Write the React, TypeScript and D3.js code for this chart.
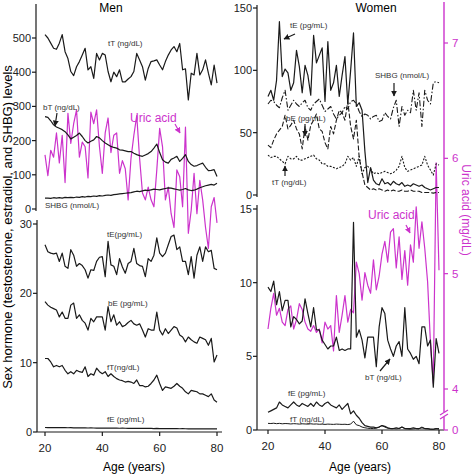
import React from 'react';
import * as d3 from 'd3';

// Ages 20..80, one value per year
const AGES = d3.range(20, 81);

// Men, upper panel (ng/dL, nmol/L)
const menTT = [510,500,485,470,467,485,510,460,440,402,390,416,431,450,470,407,416,382,455,436,455,450,402,372,400,387,407,372,372,380,387,402,455,436,416,377,411,431,433,436,421,407,431,450,465,475,460,484,407,410,319,397,392,455,392,407,436,397,363,421,368];
const menBT = [270,268,258,246,240,236,232,226,217,205,210,215,222,212,200,193,198,202,212,208,200,193,188,183,180,178,173,172,170,168,168,163,159,156,154,158,162,168,178,190,165,144,137,134,145,149,154,139,148,159,139,130,125,127,131,134,122,112,113,115,95];
const menSHBG = [32,32,31,33,32,33,32,34,33,34,33,35,34,36,35,37,36,38,37,39,38,40,41,40,42,43,44,45,46,47,48,50,52,51,53,55,54,56,58,57,56,58,60,62,61,59,57,55,57,60,56,54,55,58,62,65,68,70,72,70,75];
const menUric = [6.03,5.85,6.07,6.01,6.22,5.96,6.2,5.79,6.39,6.13,6.3,6.42,6.01,6.14,6.1,5.83,6.4,6.3,6.42,6.1,5.87,6.22,6.35,6.05,6.2,6.22,5.87,5.98,5.91,5.64,6.0,6.2,6.37,6.0,5.7,5.64,5.75,5.64,5.58,5.9,6.26,6.1,5.64,5.75,5.52,5.4,5.9,5.84,5.58,6.27,5.35,5.55,5.87,5.52,5.81,5.64,5.4,5.22,5.58,5.66,5.44];

// Men, lower panel (pg/mL, ng/dL)
const menTE = [27,26,25.8,25.7,25.8,24.6,25.8,23.9,23.6,26.3,25.5,23.9,24.3,24.0,23.4,22.2,23.4,23.3,24.6,25.2,25.3,22.4,27.5,24.1,23.9,22.7,25,23.8,22.9,24.3,24.6,26.5,24.3,24.0,23.9,22.4,25,24.6,25.5,28,25.8,25.3,25.8,27.0,28.2,28.4,26.3,26.7,24.6,24.6,22.7,25.3,22.2,25.5,26.7,24.6,26.7,26,26.2,23.6,23.4];
const menBE = [18.8,18.3,18.0,17.8,17.6,16.6,17.3,16.4,16.4,18.3,18.6,16.4,16.9,16.1,15.7,14.7,16.4,15.9,16.6,16.6,16.6,14.7,18.1,15.9,16.9,15.4,15.9,15.2,15.4,15.8,16.1,15.6,15.4,15.6,14.7,13.7,14.9,14.7,14.7,17.3,14.7,14.0,14.9,14.2,14.7,15.2,15.0,14.0,13.7,13.0,13.7,13.3,13.0,12.8,13.7,13.5,13.3,12.5,13.5,10.1,11.1];
const menFT = [10.6,10.6,10.1,9.4,9.6,9.4,9.6,8.9,8.4,8.7,8.4,8.9,8.7,8.6,9.4,8.0,8.4,8.2,9.2,8.7,8.4,8.7,8.0,8.4,8.0,7.7,7.5,7.4,7.2,7.3,7.2,7.0,7.5,6.7,6.7,6.5,6.6,7.0,7.5,8.2,7.0,6.0,6.5,6.4,6.3,6.6,7.0,6.6,6.3,5.8,5.5,6.0,5.9,5.8,5.5,5.5,5.3,5.1,5.5,4.6,4.3];
const menFE = [0.65,0.64,0.65,0.63,0.64,0.62,0.63,0.62,0.61,0.62,0.6,0.61,0.6,0.59,0.6,0.58,0.59,0.58,0.57,0.58,0.56,0.57,0.56,0.55,0.56,0.55,0.54,0.55,0.54,0.53,0.54,0.53,0.52,0.53,0.52,0.51,0.52,0.51,0.5,0.52,0.5,0.49,0.5,0.49,0.48,0.49,0.48,0.47,0.48,0.47,0.46,0.47,0.46,0.46,0.45,0.46,0.45,0.44,0.45,0.44,0.44];

// Women, upper panel
const womenTE = [79,84,76,92,139,95,101,98,84,90,116,103,82,104,96,80,128,106,112,118,75,123,84,90,104,79,96,111,73,100,130,71,74,68,35,10,22,12,9,8,13,9,10,8,11,9,8,10,7,8,7,9,8,7,8,6,5,4,5,6,6];
const womenSHBG = [73,76,75,72,70,78,84,68,72,76,73,71,74,76,70,68,73,75,77,72,67,69,71,65,61,64,66,71,69,75,76,73,67,63,65,64,61,63,64,59,60,66,63,61,70,76,55,71,64,68,66,84,68,82,55,84,76,73,90,91,90];
const womenBE = [40,38,44,49,52,55,64,53,56,60,53,49,37,55,44,56,60,65,53,51,42,37,55,49,60,68,66,60,75,55,45,60,30,18,8,6,4,5,4,5,4,3,4,3,4,3,3,4,3,3,4,3,3,3,2,2,2,2,1.5,2,2];
const womenTT = [32,30,31,31,29,27,25,31,29,29,31,28,28,29,30,31,32,29,28,25,25,23,23,22,21,22,23,25,31,28,30,23,31,17,22,23,21,17,18,17,18,19,18,17,18,20,23,31,22,19,20,21,22,23,24,31,24,20,16,25,24];

// Women, lower panel
const womenBT = [9.7,9.4,10.1,8.5,9.4,8.1,8.8,8.8,7.0,7.7,7.5,7.2,7.4,8.9,7.9,7.0,8.3,6.8,6.8,6.1,5.8,5.5,5.7,5.7,6.3,5.4,5.5,5.4,5.5,5.5,14.1,6.3,6.8,6.1,4.9,6.3,6.3,6.3,4.3,7.0,8.3,7.9,6.1,5.5,5.0,5.7,6.0,5.0,8.3,5.5,5.2,4.8,5.0,4.5,7.0,7.0,5.7,6.1,2.9,6.2,5.2];
const womenFE = [1.2,1.3,1.4,1.5,1.9,1.7,1.6,1.5,1.7,1.9,1.7,1.6,1.8,1.7,1.6,1.8,1.6,1.9,1.7,1.6,1.8,1.9,1.7,1.6,1.5,1.7,1.4,1.6,1.8,1.1,1.3,1.0,0.8,0.5,0.3,0.25,0.2,0.2,0.15,0.2,0.3,0.25,0.15,0.1,0.1,0.15,0.1,0.2,0.1,0.1,0.1,0.15,0.1,0.1,0.15,0.1,0.1,0.05,0.05,0.1,0.05];
const womenFT = [0.45,0.44,0.46,0.43,0.45,0.42,0.44,0.43,0.41,0.43,0.42,0.4,0.42,0.41,0.4,0.42,0.4,0.41,0.39,0.4,0.38,0.4,0.39,0.38,0.4,0.39,0.38,0.39,0.37,0.4,0.6,0.35,0.3,0.2,0.15,0.12,0.1,0.1,0.12,0.2,0.3,0.2,0.12,0.1,0.1,0.08,0.1,0.2,0.1,0.08,0.06,0.08,0.1,0.08,0.2,0.1,0.08,0.06,0.05,0.08,0.1];
const womenUric = [4.52,4.7,4.83,4.64,4.7,4.58,4.55,4.69,4.72,4.52,4.6,4.74,4.69,4.58,4.52,4.5,4.55,4.49,4.52,4.4,4.58,4.52,4.55,4.33,4.81,4.49,4.64,4.81,4.58,4.69,4.66,5.1,5.0,4.77,5.01,4.9,4.83,5.12,4.86,4.98,5.17,5.28,5.1,5.36,5.39,5.05,5.32,4.95,5.2,4.9,5.25,5.1,5.58,5.22,5.45,5.22,4.93,4.4,4.05,5.96,5.03];

// Tick values
const xTicks = [20, 40, 60, 80];
const menUpperTicks = [0, 100, 200, 300, 400, 500];
const menLowerTicks = [0, 10, 20, 30];
const womenUpperTicks = [0, 50, 100, 150];
const womenLowerTicks = [0, 5, 10, 15];
const uricTicks = [4, 5, 6, 7];

const FONT = 'Liberation Sans, Arial, sans-serif';
const MAGENTA = '#cc33cc';
const INK = '#1a1a1a';

const xL = d3.scaleLinear().domain([20, 80]).range([45, 217]);
const xR = d3.scaleLinear().domain([20, 80]).range([268, 439]);
const yLU = d3.scaleLinear().domain([0, 500]).range([209, 38]);
const yLL = d3.scaleLinear().domain([0, 30]).range([432, 224]);
const yRU = d3.scaleLinear().domain([0, 150]).range([195, 8]);
const yRL = d3.scaleLinear().domain([0, 15]).range([430, 209]);
const yUric = d3.scaleLinear().domain([4, 7]).range([389, 43]);

function path(vals: number[], x: d3.ScaleLinear<number, number>, y: d3.ScaleLinear<number, number>) {
  return d3.line<number>().x((_, i) => x(AGES[i])).y(d => y(d))(vals) as string;
}

const Series = ({ d, dash, color = INK, w = 1.2 }: { d: string; dash?: string; color?: string; w?: number }) => (
  <path d={d} fill="none" stroke={color} strokeWidth={w} strokeDasharray={dash} strokeLinejoin="round" />
);

const Label = ({ x, y, t, color = '#333', size = 8 }: { x: number; y: number; t: string; color?: string; size?: number }) => (
  <text x={x} y={y} fontSize={size} fill={color} fontFamily={FONT}>{t}</text>
);

const Arrow = ({ x1, y1, x2, y2, color = INK }: { x1: number; y1: number; x2: number; y2: number; color?: string }) => (
  <line x1={x1} y1={y1} x2={x2} y2={y2} stroke={color} strokeWidth={1.2}
    markerEnd={color === INK ? 'url(#ah)' : 'url(#ahm)'} />
);

function YAxis({ x, y, ticks, top, bottom }: { x: number; y: d3.ScaleLinear<number, number>; ticks: number[]; top: number; bottom: number }) {
  return (
    <g>
      <line x1={x} x2={x} y1={top} y2={bottom} stroke={INK} strokeWidth={1.2} />
      {ticks.map(t => (
        <g key={t}>
          <line x1={x - 4} x2={x} y1={y(t)} y2={y(t)} stroke={INK} strokeWidth={1.2} />
          <text x={x - 5} y={y(t) + 4} fontSize={11} textAnchor="end" fontFamily={FONT} fill="#222">{t}</text>
        </g>
      ))}
    </g>
  );
}

function XAxis({ x, y, left, right }: { x: d3.ScaleLinear<number, number>; y: number; left: number; right: number }) {
  return (
    <g>
      <line x1={left} x2={right} y1={y} y2={y} stroke={INK} strokeWidth={1.2} />
      {xTicks.map(t => (
        <g key={t}>
          <line x1={x(t)} x2={x(t)} y1={y} y2={y + 4} stroke={INK} strokeWidth={1.2} />
          <text x={x(t)} y={y + 20} fontSize={11.5} textAnchor="middle" fontFamily={FONT} fill="#222">{t}</text>
        </g>
      ))}
    </g>
  );
}

export default function App() {
  return (
    <div style={{ position: 'absolute', left: 0, top: 0 }}>
      <svg width={474} height={474} style={{ display: 'block', background: '#fff' }}>
        <defs>
          <marker id="ah" viewBox="0 0 10 10" refX="9" refY="5" markerWidth="5" markerHeight="5" orient="auto">
            <path d="M0,0 L10,5 L0,10 z" fill={INK} />
          </marker>
          <marker id="ahm" viewBox="0 0 10 10" refX="9" refY="5" markerWidth="5" markerHeight="5" orient="auto">
            <path d="M0,0 L10,5 L0,10 z" fill={MAGENTA} />
          </marker>
        </defs>

        {/* Titles */}
        <text x={111} y={12} fontSize={12} textAnchor="middle" fontFamily={FONT}>Men</text>
        <text x={376} y={12} fontSize={12} textAnchor="middle" fontFamily={FONT}>Women</text>
        <text x={134} y={471} fontSize={12} textAnchor="middle" fontFamily={FONT}>Age (years)</text>
        <text x={360} y={471} fontSize={12} textAnchor="middle" fontFamily={FONT}>Age (years)</text>
        <text transform="translate(12,227) rotate(-90)" fontSize={13} textAnchor="middle" fontFamily={FONT}>
          Sex hormone (testosterone, estradiol, and SHBG) levels
        </text>
        <text transform="translate(462,210) rotate(90)" fontSize={12} textAnchor="middle" fontFamily={FONT} fill={MAGENTA}>
          Uric acid (mg/dL)
        </text>

        {/* Men axes */}
        <YAxis x={36} y={yLU} ticks={menUpperTicks} top={4} bottom={211} />
        <YAxis x={37} y={yLL} ticks={menLowerTicks} top={220} bottom={432} />
        <XAxis x={xL} y={432} left={37} right={222} />

        {/* Women axes */}
        <YAxis x={257} y={yRU} ticks={womenUpperTicks} top={5} bottom={197} />
        <YAxis x={257} y={yRL} ticks={womenLowerTicks} top={205} bottom={430} />
        <XAxis x={xR} y={430} left={257} right={444} />

        {/* Uric acid axis */}
        <g>
          <line x1={444} x2={444} y1={2} y2={430} stroke={MAGENTA} strokeWidth={1.4} />
          {uricTicks.map(t => (
            <g key={t}>
              <line x1={444} x2={448} y1={yUric(t)} y2={yUric(t)} stroke={MAGENTA} strokeWidth={1.2} />
              <text x={452} y={yUric(t) + 4} fontSize={11.5} fontFamily={FONT} fill={MAGENTA}>{t}</text>
            </g>
          ))}
          <line x1={444} x2={448} y1={430} y2={430} stroke={MAGENTA} strokeWidth={1.2} />
          <text x={452} y={434} fontSize={11.5} fontFamily={FONT} fill={MAGENTA}>0</text>
          <rect x={440} y={412} width={8} height={5} fill="#fff" />
          <line x1={440} y1={415} x2={448} y2={410} stroke={MAGENTA} strokeWidth={1.2} />
          <line x1={440} y1={419} x2={448} y2={414} stroke={MAGENTA} strokeWidth={1.2} />
        </g>

        {/* Men series */}
        <Series d={path(menUric, xL, yUric)} color={MAGENTA} />
        <Series d={path(menTT, xL, yLU)} />
        <Series d={path(menBT, xL, yLU)} />
        <Series d={path(menSHBG, xL, yLU)} />
        <Series d={path(menTE, xL, yLL)} />
        <Series d={path(menBE, xL, yLL)} />
        <Series d={path(menFT, xL, yLL)} />
        <Series d={path(menFE, xL, yLL)} />

        {/* Women series */}
        <Series d={path(womenUric, xR, yUric)} color={MAGENTA} />
        <Series d={path(womenSHBG, xR, yRU)} dash="6,2,1.5,2" w={1.1} />
        <Series d={path(womenBE, xR, yRU)} dash="5,2" w={1.1} />
        <Series d={path(womenTT, xR, yRU)} dash="2,1.5" w={1.1} />
        <Series d={path(womenTE, xR, yRU)} />
        <Series d={path(womenBT, xR, yRL)} />
        <Series d={path(womenFE, xR, yRL)} />
        <Series d={path(womenFT, xR, yRL)} w={1} />

        {/* Men labels */}
        <Label x={108} y={46} t="tT (ng/dL)" />
        <Label x={43} y={110} t="bT (ng/dL)" />
        <Arrow x1={57} y1={113} x2={55} y2={126} />
        <Label x={130} y={122} t="Uric acid" color={MAGENTA} size={12} />
        <Arrow x1={175} y1={124} x2={180} y2={133} color={MAGENTA} />
        <Label x={45} y={208} t="SHBG (nmol/L)" />
        <Label x={107} y={237} t="tE(pg/mL)" />
        <Label x={108} y={306} t="bE (pg/mL)" />
        <Label x={107} y={370} t="fT(ng/dL)" />
        <Label x={107} y={422} t="fE (pg/mL)" />

        {/* Women labels */}
        <Label x={290} y={28} t="tE (pg/mL)" />
        <Arrow x1={295} y1={34} x2={284} y2={39} />
        <Label x={375} y={78} t="SHBG (nmol/L)" />
        <Arrow x1={394} y1={83} x2={394} y2={96} />
        <Label x={286} y={121} t="bE (pg/mL)" />
        <Arrow x1={305} y1={124} x2={305} y2={136} />
        <Label x={272} y={185} t="tT (ng/dL)" />
        <Arrow x1={285} y1={176} x2={285} y2={166} />
        <Label x={368} y={219} t="Uric acid" color={MAGENTA} size={12} />
        <Arrow x1={406} y1={225} x2={410} y2={233} color={MAGENTA} />
        <Label x={365} y={380} t="bT (ng/dL)" />
        <Arrow x1={380} y1={371} x2={390} y2={359} />
        <Label x={288} y={396} t="fE (pg/mL)" />
        <Label x={290} y={422} t="fT (ng/dL)" />
      </svg>
    </div>
  );
}
